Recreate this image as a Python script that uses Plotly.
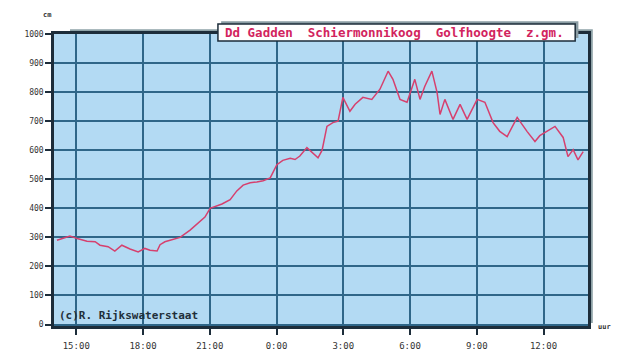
import pandas as pd
import plotly.graph_objects as go

# Wave height readings (cm), 24-hour window starting at 14:00
times = [
    "2024-01-01 14:08", "2024-01-01 14:22", "2024-01-01 14:43", "2024-01-01 15:05",
    "2024-01-01 15:29", "2024-01-01 15:51", "2024-01-01 16:04", "2024-01-01 16:26",
    "2024-01-01 16:44", "2024-01-01 17:03", "2024-01-01 17:25", "2024-01-01 17:47",
    "2024-01-01 18:05", "2024-01-01 18:19", "2024-01-01 18:38", "2024-01-01 18:46",
    "2024-01-01 18:59", "2024-01-01 19:13", "2024-01-01 19:40", "2024-01-01 20:07",
    "2024-01-01 20:28", "2024-01-01 20:47", "2024-01-01 21:01", "2024-01-01 21:20",
    "2024-01-01 21:33", "2024-01-01 21:55", "2024-01-01 22:13", "2024-01-01 22:30",
    "2024-01-01 22:49", "2024-01-01 23:07", "2024-01-01 23:24", "2024-01-01 23:43",
    "2024-01-02 00:01", "2024-01-02 00:17", "2024-01-02 00:37", "2024-01-02 00:50",
    "2024-01-02 01:03", "2024-01-02 01:22", "2024-01-02 01:38", "2024-01-02 01:52",
    "2024-01-02 02:03", "2024-01-02 02:16", "2024-01-02 02:32", "2024-01-02 02:46",
    "2024-01-02 02:59", "2024-01-02 03:18", "2024-01-02 03:32", "2024-01-02 03:53",
    "2024-01-02 04:17", "2024-01-02 04:39", "2024-01-02 05:01", "2024-01-02 05:14",
    "2024-01-02 05:33", "2024-01-02 05:52", "2024-01-02 06:13", "2024-01-02 06:27",
    "2024-01-02 06:40", "2024-01-02 06:59", "2024-01-02 07:13", "2024-01-02 07:21",
    "2024-01-02 07:34", "2024-01-02 07:56", "2024-01-02 08:15", "2024-01-02 08:34",
    "2024-01-02 09:01", "2024-01-02 09:22", "2024-01-02 09:44", "2024-01-02 10:02",
    "2024-01-02 10:22", "2024-01-02 10:49", "2024-01-02 11:16", "2024-01-02 11:37",
    "2024-01-02 11:50", "2024-01-02 12:09", "2024-01-02 12:31", "2024-01-02 12:53",
    "2024-01-02 13:06", "2024-01-02 13:20", "2024-01-02 13:33", "2024-01-02 13:47",
]
wave_cm = [
    290, 295, 305, 295, 287, 285, 273, 268, 253, 273, 260, 250,
    262, 256, 253, 275, 285, 290, 300, 325, 350, 370, 400, 410,
    415, 430, 460, 480, 488, 491, 495, 505, 550, 565, 572, 568,
    580, 609, 592, 574, 600, 682, 695, 700, 782, 734, 758, 782,
    775, 810, 872, 844, 775, 765, 844, 775, 820, 872, 799, 723,
    775, 706, 758, 706, 775, 765, 695, 665, 647, 713, 664, 630,
    650, 664, 682, 644, 578, 602, 567, 595,
]

tick_times = [
    "2024-01-01 15:00", "2024-01-01 18:00", "2024-01-01 21:00", "2024-01-02 00:00",
    "2024-01-02 03:00", "2024-01-02 06:00", "2024-01-02 09:00", "2024-01-02 12:00",
]
tick_labels = ["15:00", "18:00", "21:00", "0:00", "3:00", "6:00", "9:00", "12:00"]
y_ticks = list(range(0, 1001, 100))

title_text = "Dd Gadden  Schiermonnikoog  Golfhoogte  z.gm."
credit_text = "(c)R. Rijkswaterstaat"

x = pd.to_datetime(times)

BG = "#b3daf3"
GRID = "#2f6688"
FRAME = "#1d2d3a"
RED = "#d2245e"
TXT = "#333333"
MONO = "DejaVu Sans Mono"

fig = go.Figure()
fig.add_trace(go.Scatter(
    x=x, y=wave_cm, mode="lines",
    line=dict(color="#d6406e", width=1.5),
    hoverinfo="skip", showlegend=False,
))

shapes = [
    # drop shadow of the plotting frame
    dict(type="rect", xref="paper", yref="paper", x0=0.03, x1=1.009, y0=0.01, y1=1.016,
         fillcolor="#8fa3a8", line=dict(width=0), layer="below"),
    # plotting area
    dict(type="rect", xref="paper", yref="paper", x0=0, x1=1, y0=0, y1=1,
         fillcolor=BG, line=dict(width=0), layer="below"),
    # title box shadow and box
    dict(type="rect", xref="paper", yref="paper", x0=0.313, x1=0.982, y0=0.986, y1=1.044,
         fillcolor="#8a9ca3", line=dict(width=0), layer="above"),
    dict(type="rect", xref="paper", yref="paper", x0=0.307, x1=0.976, y0=0.976, y1=1.034,
         fillcolor="white", line=dict(color=FRAME, width=1.5), layer="above"),
]

fig.update_layout(
    width=617, height=355,
    margin=dict(l=54, r=29, t=34, b=29),
    paper_bgcolor="white",
    plot_bgcolor="rgba(0,0,0,0)",
    shapes=shapes,
    xaxis=dict(
        range=[pd.Timestamp("2024-01-01 14:00"), pd.Timestamp("2024-01-02 14:00")],
        tickvals=pd.to_datetime(tick_times), ticktext=tick_labels,
        showgrid=True, gridcolor=GRID, gridwidth=1.5,
        showline=True, linecolor=FRAME, linewidth=2.5, mirror=True,
        ticks="outside", ticklen=6, tickcolor=FRAME, tickwidth=1.5,
        ticklabelstandoff=3, automargin=False,
        tickfont=dict(family=MONO, size=9, color=TXT),
        zeroline=False, fixedrange=True,
    ),
    yaxis=dict(
        range=[-5, 1000],
        tickvals=y_ticks, ticktext=[str(v) for v in y_ticks],
        showgrid=True, gridcolor=GRID, gridwidth=1.5,
        showline=True, linecolor=FRAME, linewidth=2.5, mirror=True,
        ticks="outside", ticklen=6, tickcolor=FRAME, tickwidth=1.5,
        tickfont=dict(family=MONO, size=8, color=TXT),
        zeroline=False, fixedrange=True,
    ),
    annotations=[
        dict(text="<b>" + title_text + "</b>", xref="paper", yref="paper",
             x=0.316, y=1.005, xanchor="left", yanchor="middle", showarrow=False,
             font=dict(family=MONO, size=12.5, color=RED)),
        dict(text="<b>" + credit_text + "</b>", xref="paper", yref="paper",
             x=0.006, y=0.035, xanchor="left", yanchor="middle", showarrow=False,
             font=dict(family=MONO, size=11, color="#1f2f3a")),
        dict(text="<b>cm</b>", xref="paper", yref="paper",
             x=-0.013, y=1.065, xanchor="center", yanchor="middle", showarrow=False,
             font=dict(family=MONO, size=7, color=TXT)),
        dict(text="<b>uur</b>", xref="paper", yref="paper",
             x=1.015, y=-0.005, xanchor="left", yanchor="middle", showarrow=False,
             font=dict(family=MONO, size=7, color=TXT)),
    ],
)

fig.write_html("out.html")
